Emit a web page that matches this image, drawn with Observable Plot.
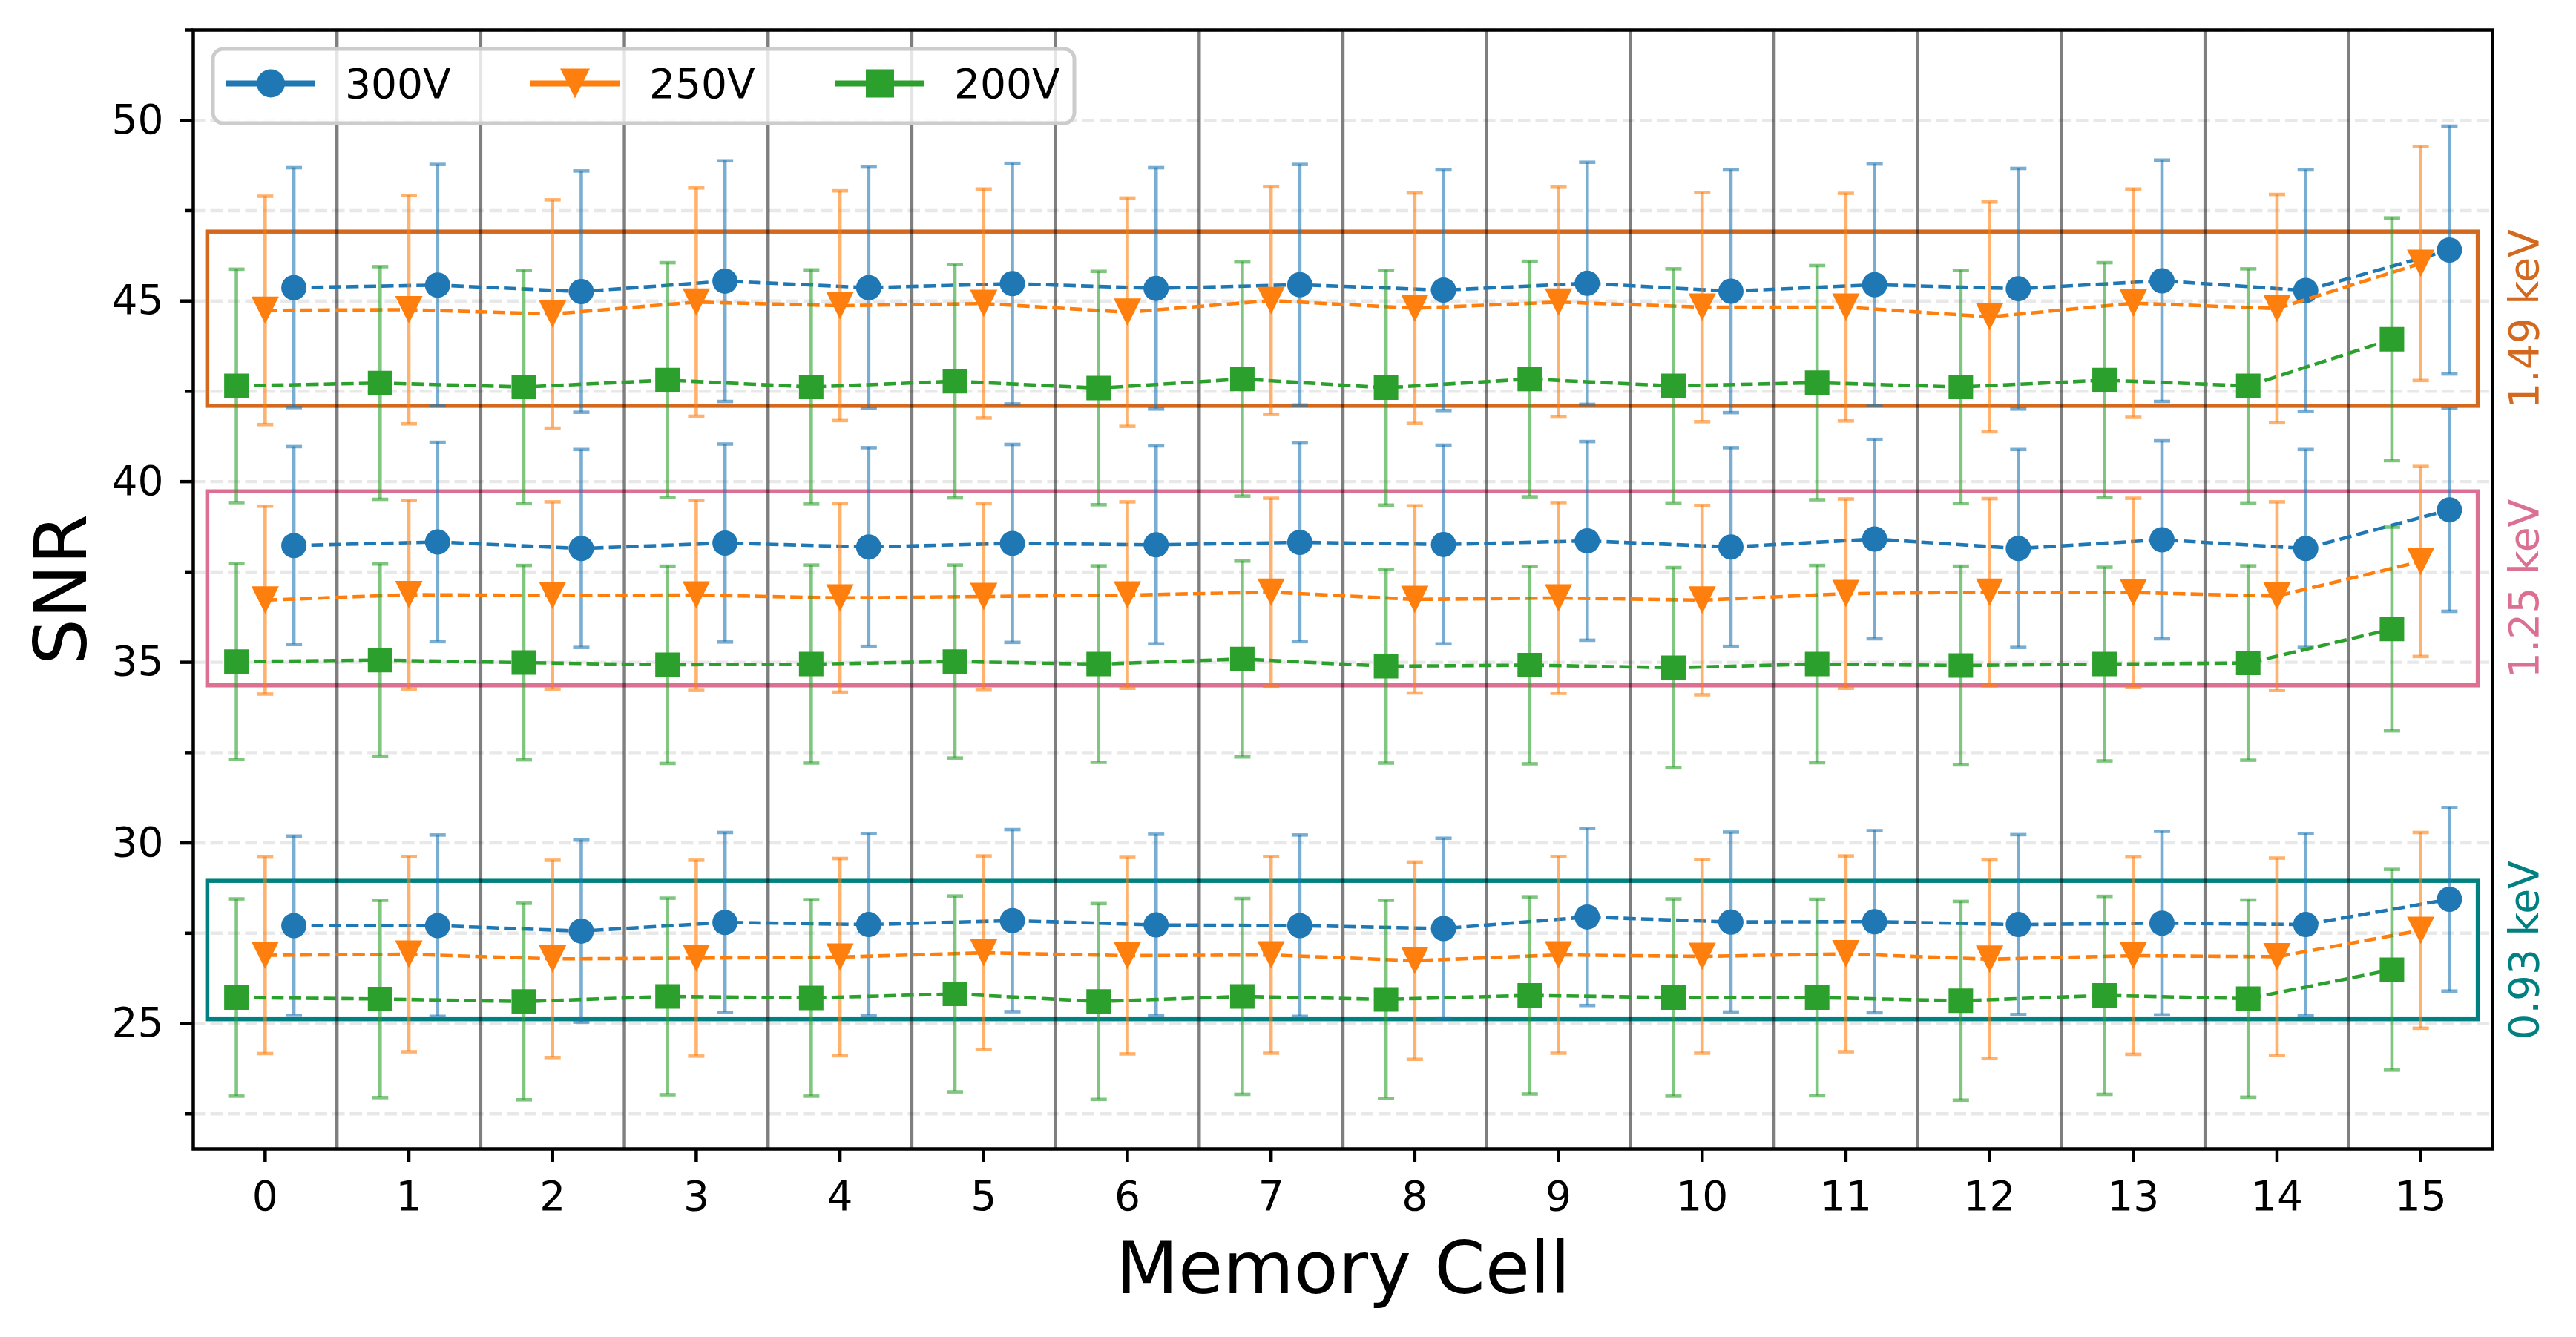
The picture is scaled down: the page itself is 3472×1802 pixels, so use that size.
<!DOCTYPE html>
<html><head><meta charset="utf-8">
<script src="https://cdn.jsdelivr.net/npm/d3@7"></script>
<script src="https://cdn.jsdelivr.net/npm/@observablehq/plot@0.6"></script>
<style>html,body{margin:0;padding:0;background:#fff;}</style>
</head><body><div id="chart"></div>
<script>
// ---------------- data ----------------
const cells = [0,1,2,3,4,5,6,7,8,9,10,11,12,13,14,15];
const voltages = ["300V","250V","200V"];
const energies = ["1.49 keV","1.25 keV","0.93 keV"];

// 1.49 keV
const snr149_300 = [45.37,45.44,45.26,45.55,45.37,45.48,45.35,45.45,45.30,45.49,45.27,45.45,45.34,45.56,45.29,46.41];
const err149_300 = [3.32,3.34,3.34,3.33,3.34,3.33,3.34,3.33,3.33,3.35,3.36,3.34,3.33,3.34,3.34,3.43];
const snr149_250 = [44.74,44.76,44.64,44.97,44.87,44.93,44.69,45.01,44.80,44.97,44.83,44.83,44.56,44.94,44.79,46.04];
const err149_250 = [3.16,3.16,3.16,3.16,3.18,3.17,3.16,3.15,3.19,3.18,3.17,3.15,3.18,3.16,3.16,3.24];
const snr149_200 = [42.65,42.73,42.62,42.81,42.62,42.78,42.59,42.84,42.60,42.84,42.65,42.74,42.62,42.81,42.65,43.94];
const err149_200 = [3.23,3.22,3.23,3.25,3.24,3.23,3.23,3.24,3.25,3.26,3.24,3.24,3.23,3.25,3.24,3.36];
// 1.25 keV
const snr125_300 = [38.23,38.33,38.15,38.30,38.19,38.29,38.25,38.32,38.26,38.36,38.19,38.41,38.15,38.39,38.15,39.22];
const err125_300 = [2.74,2.76,2.74,2.74,2.75,2.74,2.74,2.75,2.75,2.75,2.75,2.76,2.74,2.74,2.74,2.81];
const snr125_250 = [36.72,36.87,36.85,36.86,36.78,36.82,36.86,36.94,36.74,36.78,36.72,36.90,36.94,36.93,36.83,37.79];
const err125_250 = [2.60,2.61,2.59,2.62,2.61,2.57,2.58,2.60,2.59,2.64,2.62,2.62,2.59,2.61,2.61,2.63];
const snr125_200 = [35.02,35.06,34.99,34.93,34.95,35.02,34.95,35.09,34.89,34.92,34.85,34.95,34.91,34.95,34.98,35.92];
const err125_200 = [2.71,2.66,2.69,2.73,2.74,2.67,2.72,2.71,2.68,2.73,2.77,2.73,2.75,2.68,2.69,2.82];
// 0.93 keV
const snr093_300 = [27.71,27.71,27.56,27.80,27.74,27.85,27.73,27.71,27.63,27.95,27.81,27.82,27.74,27.78,27.74,28.44];
const err093_300 = [2.48,2.51,2.52,2.49,2.52,2.52,2.51,2.51,2.50,2.45,2.49,2.52,2.49,2.54,2.52,2.54];
const snr093_250 = [26.89,26.92,26.79,26.81,26.84,26.96,26.88,26.90,26.74,26.90,26.86,26.93,26.78,26.88,26.85,27.58];
const err093_250 = [2.72,2.70,2.73,2.71,2.73,2.68,2.72,2.72,2.73,2.72,2.68,2.71,2.75,2.73,2.73,2.71];
const snr093_200 = [25.72,25.68,25.61,25.75,25.71,25.82,25.61,25.75,25.67,25.78,25.72,25.72,25.63,25.78,25.69,26.49];
const err093_200 = [2.73,2.73,2.72,2.72,2.72,2.71,2.71,2.71,2.74,2.73,2.73,2.72,2.75,2.74,2.73,2.78];

const yMajorTicks = [25,30,35,40,45,50];
const yMinorTicks = [22.5,27.5,32.5,37.5,42.5,47.5,52.5];
const yGrid = [22.5,25,27.5,30,32.5,35,37.5,40,42.5,45,47.5,50,52.5];
const separators = [0.5,1.5,2.5,3.5,4.5,5.5,6.5,7.5,8.5,9.5,10.5,11.5,12.5,13.5,14.5];

// ---------------- styling / structure ----------------
const seriesColor = {"300V":"#1f77b4","250V":"#ff7f0e","200V":"#2ca02c"};
const dodge = {"300V":0.2,"250V":0,"200V":-0.2};
const energyColor = {"1.49 keV":"#d2691e","1.25 keV":"#db7093","0.93 keV":"#008080"};
const boxPad = 0.5, boxX = [-0.4, 15.4];

const table = {
  "1.49 keV": {"300V":[snr149_300,err149_300],"250V":[snr149_250,err149_250],"200V":[snr149_200,err149_200]},
  "1.25 keV": {"300V":[snr125_300,err125_300],"250V":[snr125_250,err125_250],"200V":[snr125_200,err125_200]},
  "0.93 keV": {"300V":[snr093_300,err093_300],"250V":[snr093_250,err093_250],"200V":[snr093_200,err093_200]}
};
const rows = [];
for (const e of energies) for (const v of voltages) {
  const [m, s] = table[e][v];
  cells.forEach((c, i) => rows.push({energy: e, voltage: v, cell: c, x: c + dodge[v], y: m[i], err: s[i]}));
}
const boxes = energies.map(e => {
  const ys = rows.filter(r => r.energy === e).map(r => r.y);
  return {energy: e, x1: boxX[0], x2: boxX[1], y1: d3.min(ys) - boxPad, y2: d3.max(ys) + boxPad};
});

// custom symbols (sizes come from r)
const rOf = size => Math.sqrt(size / Math.PI);
const symCircle = {draw(ctx, size){ const r = rOf(size); ctx.moveTo(r,0); ctx.arc(0,0,r,0,2*Math.PI); }};
const symSquare = {draw(ctx, size){ const r = rOf(size); ctx.moveTo(-r,-r); ctx.lineTo(r,-r); ctx.lineTo(r,r); ctx.lineTo(-r,r); ctx.closePath(); }};
const symTriDown = {draw(ctx, size){ const r = rOf(size); ctx.moveTo(0,r); ctx.lineTo(-r,-r); ctx.lineTo(r,-r); ctx.closePath(); }};
const symCap = {draw(ctx, size){ const r = rOf(size); ctx.moveTo(-r,0); ctx.lineTo(r,0); }};
const seriesSymbol = {"300V":[symCircle,17],"250V":[symTriDown,18.5],"200V":[symSquare,16.5]};

const marks = [];
marks.push(Plot.ruleY(yGrid, {stroke:"#e8e8e8", strokeWidth:4.4, strokeDasharray:"16.5,7"}));
for (const b of boxes) {
  marks.push(Plot.rect([b], {x1:"x1", x2:"x2", y1:"y1", y2:"y2", fill:"none", stroke: energyColor[b.energy], strokeWidth:5.5}));
}
marks.push(Plot.ruleX(separators, {stroke:"black", strokeOpacity:0.5, strokeWidth:4.4}));
for (const v of voltages) {
  const d = rows.filter(r => r.voltage === v);
  const col = seriesColor[v];
  marks.push(Plot.ruleX(d, {x:"x", y1: r => r.y - r.err, y2: r => r.y + r.err, stroke: col, strokeOpacity:0.6, strokeWidth:4.6}));
  marks.push(Plot.dot(d, {x:"x", y: r => r.y - r.err, symbol: symCap, r: 11, fill:"none", stroke: col, strokeOpacity:0.6, strokeWidth:4.6}));
  marks.push(Plot.dot(d, {x:"x", y: r => r.y + r.err, symbol: symCap, r: 11, fill:"none", stroke: col, strokeOpacity:0.6, strokeWidth:4.6}));
  marks.push(Plot.line(d, {x:"x", y:"y", z:"energy", stroke: col, strokeWidth:4.6, strokeDasharray:"16.5,7.1", strokeLinecap:"butt"}));
  const [sym, r] = seriesSymbol[v];
  marks.push(Plot.dot(d, {x:"x", y:"y", symbol: sym, r: r, fill: col, stroke:"none"}));
}
for (const b of boxes) {
  marks.push(Plot.text([b], {y: r => (r.y1 + r.y2) / 2, text: "energy", frameAnchor:"right", textAnchor:"middle", dx: 61, rotate: -90, lineAnchor:"bottom", fontSize: 55, fill: energyColor[b.energy]}));
}
marks.push(Plot.axisX({ticks: cells, tickSize: 18, tickPadding: 25, fontSize: 55, strokeWidth: 4.5, label: null, tickFormat: d => String(d)}));
marks.push(Plot.axisY({ticks: yMajorTicks, tickSize: 18, tickPadding: 22, fontSize: 55, strokeWidth: 4.5, label: null, tickFormat: d => String(d)}));
marks.push(Plot.axisY({ticks: yMinorTicks, tickSize: 10, strokeWidth: 4.5, label: null, tickFormat: () => ""}));
marks.push(Plot.text(["Memory Cell"], {text: d => d, frameAnchor:"bottom", textAnchor:"middle", dy: 194, lineAnchor:"bottom", fontSize: 98}));
marks.push(Plot.text(["SNR"], {text: d => d, frameAnchor:"left", textAnchor:"middle", dx: -145, rotate: -90, lineAnchor:"bottom", fontSize: 98}));
marks.push(Plot.frame({stroke:"black", strokeWidth:4.5}));

const plot = Plot.plot({
  width: 3472, height: 1802,
  marginLeft: 260, marginRight: 113, marginTop: 40, marginBottom: 254,
  x: {domain: [-0.5, 15.5]},
  y: {domain: [21.53, 52.5]},
  style: {fontFamily: "DejaVu Sans", background: "#fff", color: "black"},
  marks
});

// legend (inside axes, top-left), built from the series definitions
const svg = d3.select(plot);
const lg = svg.append("g").attr("font-family","DejaVu Sans").attr("font-size", 55).attr("text-anchor","start");
lg.append("rect").attr("x", 287).attr("y", 66).attr("width", 1161).attr("height", 100).attr("rx", 14)
  .attr("fill","white").attr("fill-opacity",0.8).attr("stroke","#cccccc").attr("stroke-width",5);
const legendX = [305, 715, 1126];
const legendSym = {"300V":[symCircle,19],"250V":[symTriDown,20],"200V":[symSquare,19]};
voltages.forEach((v, i) => {
  const x0 = legendX[i], cy = 112.5, col = seriesColor[v];
  lg.append("line").attr("x1", x0).attr("x2", x0 + 120).attr("y1", cy).attr("y2", cy).attr("stroke", col).attr("stroke-width", 8);
  const [sym, r] = legendSym[v];
  lg.append("path").attr("d", d3.symbol().type(sym).size(Math.PI * r * r)()).attr("transform", `translate(${x0 + 60},${cy})`).attr("fill", col);
  lg.append("text").attr("x", x0 + 160).attr("y", cy).attr("dy", "0.36em").attr("fill","black").attr("text-anchor","start").text(v);
});

document.getElementById("chart").appendChild(plot);
</script></body></html>
